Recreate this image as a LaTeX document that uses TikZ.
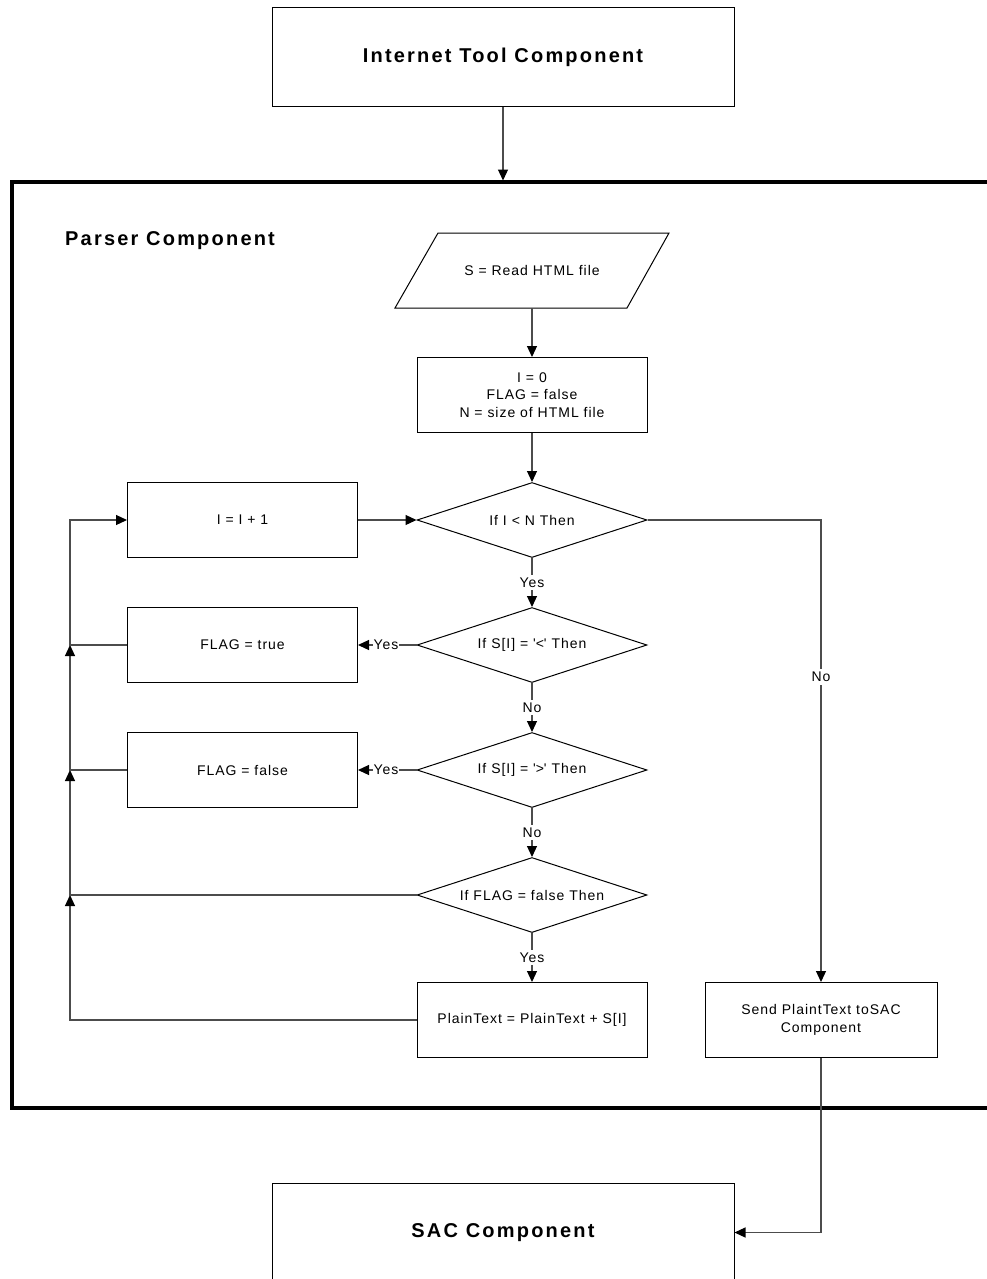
\documentclass[tikz,border=0pt]{standalone}
\usepackage{fontspec}
\setmainfont{Liberation Sans}[LetterSpace=7]
\newfontfamily\headfont{Liberation Sans}[LetterSpace=11]
\usetikzlibrary{arrows.meta,shapes.geometric,calc}
\definecolor{linegray}{gray}{0.3}

\begin{document}
\begin{tikzpicture}[x=1pt,y=-1pt,
  every node/.style={font=\fontsize{14}{17.5}\selectfont},
  box/.style={draw=black, line width=1pt, minimum width=230pt, minimum height=75pt, align=center, inner sep=0pt},
  comp/.style={draw=black, line width=1pt, minimum width=462pt, minimum height=99pt, font=\headfont\bfseries\fontsize{20}{24}\selectfont},
  decision/.style={diamond, draw=black, line width=1pt, minimum width=230pt, minimum height=75pt, shape aspect=3.07, inner sep=0pt},
  conn/.style={draw=linegray, line width=1.2pt},
  arr/.style={conn, -{Triangle[length=11pt,width=10pt,color=black]}},
  lbl/.style={fill=white, inner xsep=1pt, inner ysep=3pt},
  frameline/.style={draw=black, line width=3.5pt},
]
\useasboundingbox (0,0) rectangle (987,1279);

% outer components
\node[comp] (itc) at (503,57.5) {Internet Tool Component};
\node[comp] (sac) at (503,1232.5) {SAC Component};

% parser component frame
\draw[frameline] (12,182) rectangle (1010,1108);
\node[anchor=west, inner sep=0pt, font=\headfont\bfseries\fontsize{20}{24}\selectfont] (parser) at (65,241) {Parser Component};
\coordinate (ftop) at (503,180.5);

% input parallelogram
\node[minimum height=75pt, inner sep=0pt] (read) at (532,270.5) {S = Read HTML file};
\draw[black, line width=1pt] ($(read)+(-94,-37.5)$) -- ($(read)+(137,-37.5)$) -- ($(read)+(95,37.5)$) -- ($(read)+(-137,37.5)$) -- cycle;

% process boxes
\node[box] (init) at (532,395) {I = 0\\FLAG = false\\N = size of HTML file};
\node[box] (inc) at (242.5,520) {I = I + 1};
\node[box] (ftrue) at (242.5,645) {FLAG = true};
\node[box] (ffalse) at (242.5,770) {FLAG = false};
\node[box] (plain) at (532,1020) {PlainText = PlainText + S[I]};
\node[box, minimum width=232pt] (send) at (821,1020) {Send PlaintText toSAC\\Component};

% decisions
\node[decision] (d1) at (532,520) {If I < N Then};
\node[decision] (d2) at (532,645) {If S[I] = \textquotesingle<\textquotesingle{} Then};
\node[decision] (d3) at (532,770) {If S[I] = \textquotesingle>\textquotesingle{} Then};
\node[decision] (d4) at (532,895) {If FLAG = false Then};

% return rail on the left
\coordinate (rail0) at (70,520);
\coordinate (rail1) at (70,645);
\coordinate (rail2) at (70,770);
\coordinate (rail3) at (70,895);
\coordinate (rail4) at (70,1020);

% main flow
\draw[arr] (itc.south) -- (ftop);
\draw[arr] (read.south) -- (init.north);
\draw[arr] (init.south) -- (d1.north);
\draw[arr] (inc.east) -- (d1.west);
\draw[arr] (d1.south) -- node[lbl]{Yes} (d2.north);
\draw[arr] (d2.south) -- node[lbl]{No} (d3.north);
\draw[arr] (d3.south) -- node[lbl]{No} (d4.north);
\draw[arr] (d4.south) -- node[lbl]{Yes} (plain.north);
\draw[arr] (d2.west) -- node[lbl,pos=0.52]{Yes} (ftrue.east);
\draw[arr] (d3.west) -- node[lbl,pos=0.52]{Yes} (ffalse.east);
\draw[arr] (d1.east) -| node[lbl,pos=0.67]{No} (send.north);
\draw[arr] (send.south) |- (sac.east);

% loop back to the counter
\draw[arr] (plain.west) -- (rail4) -- (rail3);
\draw[arr] (d4.west) -- (rail3) -- (rail2);
\draw[arr] (ffalse.west) -- (rail2) -- (rail1);
\draw[arr] (ftrue.west) -- (rail1) -- (rail0) -- (inc.west);
\end{tikzpicture}
\end{document}
